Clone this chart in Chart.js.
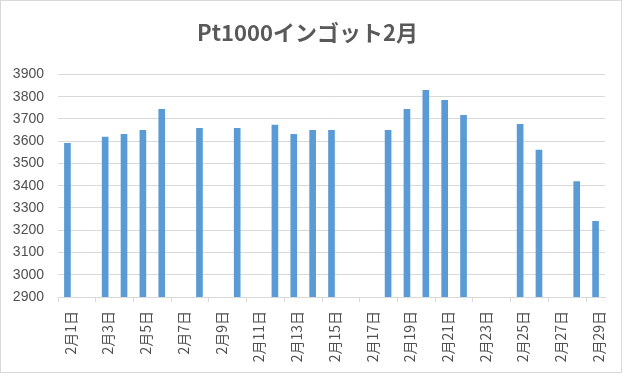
<!DOCTYPE html>
<html>
<head>
<meta charset="utf-8">
<script src="https://cdn.jsdelivr.net/npm/chart.js@4"></script>
<style>
  html, body { margin: 0; padding: 0; background: #fff; }
  #wrap { width: 627px; height: 376px; }
</style>
</head>
<body>
<div id="wrap"><canvas id="myChart" width="627" height="376"></canvas></div>
<script>
// -----------------------------------------------------------------
// data
const chartTitle = 'Pt1000インゴット2月';

const dayLabels = [
  '2月1日', '2月2日', '2月3日', '2月4日', '2月5日', '2月6日', '2月7日',
  '2月8日', '2月9日', '2月10日', '2月11日', '2月12日', '2月13日', '2月14日',
  '2月15日', '2月16日', '2月17日', '2月18日', '2月19日', '2月20日', '2月21日',
  '2月22日', '2月23日', '2月24日', '2月25日', '2月26日', '2月27日', '2月28日',
  '2月29日',
];

// null = no price that day
const priceValues = [
  3590, null, 3618, 3631, 3649, 3743, null,
  3658, null, 3658, null, 3672, 3631, 3649,
  3649, null, null, 3649, 3743, 3828, 3784,
  3716, null, null, 3676, 3560, null, 3419,
  3240,
];

const yTicks = [2900, 3000, 3100, 3200, 3300, 3400, 3500, 3600, 3700, 3800, 3900];

// -----------------------------------------------------------------
// chart
const GRID = '#d9d9d9';
const TEXT = '#595959';

const framePlugin = {
  id: 'frame',
  beforeDraw(chart) {
    const { ctx, width, height } = chart;
    ctx.save();
    ctx.fillStyle = '#fff';
    ctx.fillRect(0, 0, width, height);
    ctx.restore();
  },
  afterDraw(chart) {
    const { ctx } = chart;
    ctx.save();
    ctx.strokeStyle = GRID;
    ctx.lineWidth = 1;
    ctx.strokeRect(0.5, 0.5, 621, 372);
    ctx.restore();
  },
};

const chartOptions = {
  type: 'bar',
  data: {
    labels: dayLabels,
    datasets: [
      {
        label: chartTitle,
        data: priceValues,
        backgroundColor: '#5b9bd5',
        barThickness: 6,
      },
    ],
  },
  options: {
    responsive: false,
    animation: false,
    devicePixelRatio: 1,
    layout: { padding: { left: 10, right: 22, top: 0, bottom: 0 } },
    plugins: {
      legend: { display: false },
      tooltip: { enabled: false },
      title: {
        display: true,
        text: chartTitle,
        color: TEXT,
        font: { family: "'Noto Sans CJK JP', 'Liberation Sans', sans-serif", size: 22, weight: 'bold', lineHeight: 1.2 },
        padding: { top: 19, bottom: 29 },
      },
    },
    scales: {
      x: {
        offset: true,
        grid: {
          offset: true,
          drawOnChartArea: false,
          tickLength: 5,
          color: (c) => (c.index % 2 === 0 ? GRID : 'rgba(0,0,0,0)'),
        },
        border: { color: GRID, width: 1 },
        ticks: {
          autoSkip: false,
          minRotation: 90,
          maxRotation: 90,
          padding: 9,
          labelOffset: 3,
          color: '#505050',
          font: { family: "'Noto Sans CJK JP', sans-serif", size: 14 },
          callback: (v, i) => (i % 2 === 0 ? dayLabels[i] : ''),
        },
        afterFit: (s) => { s.height = 79; },
      },
      y: {
        min: yTicks[0],
        max: yTicks[yTicks.length - 1],
        afterBuildTicks: (s) => { s.ticks = yTicks.map((v) => ({ value: v })); },
        grid: { color: GRID, drawTicks: false },
        border: { display: false },
        ticks: {
          padding: 14,
          color: '#505050',
          font: { family: "'Liberation Sans', sans-serif", size: 14 },
          callback: (v) => String(v),
        },
        afterFit: (s) => { s.width = 48; },
      },
    },
  },
  plugins: [framePlugin],
};

const ctx = document.querySelector('#myChart').getContext('2d');
new Chart(ctx, chartOptions);
</script>
</body>
</html>
